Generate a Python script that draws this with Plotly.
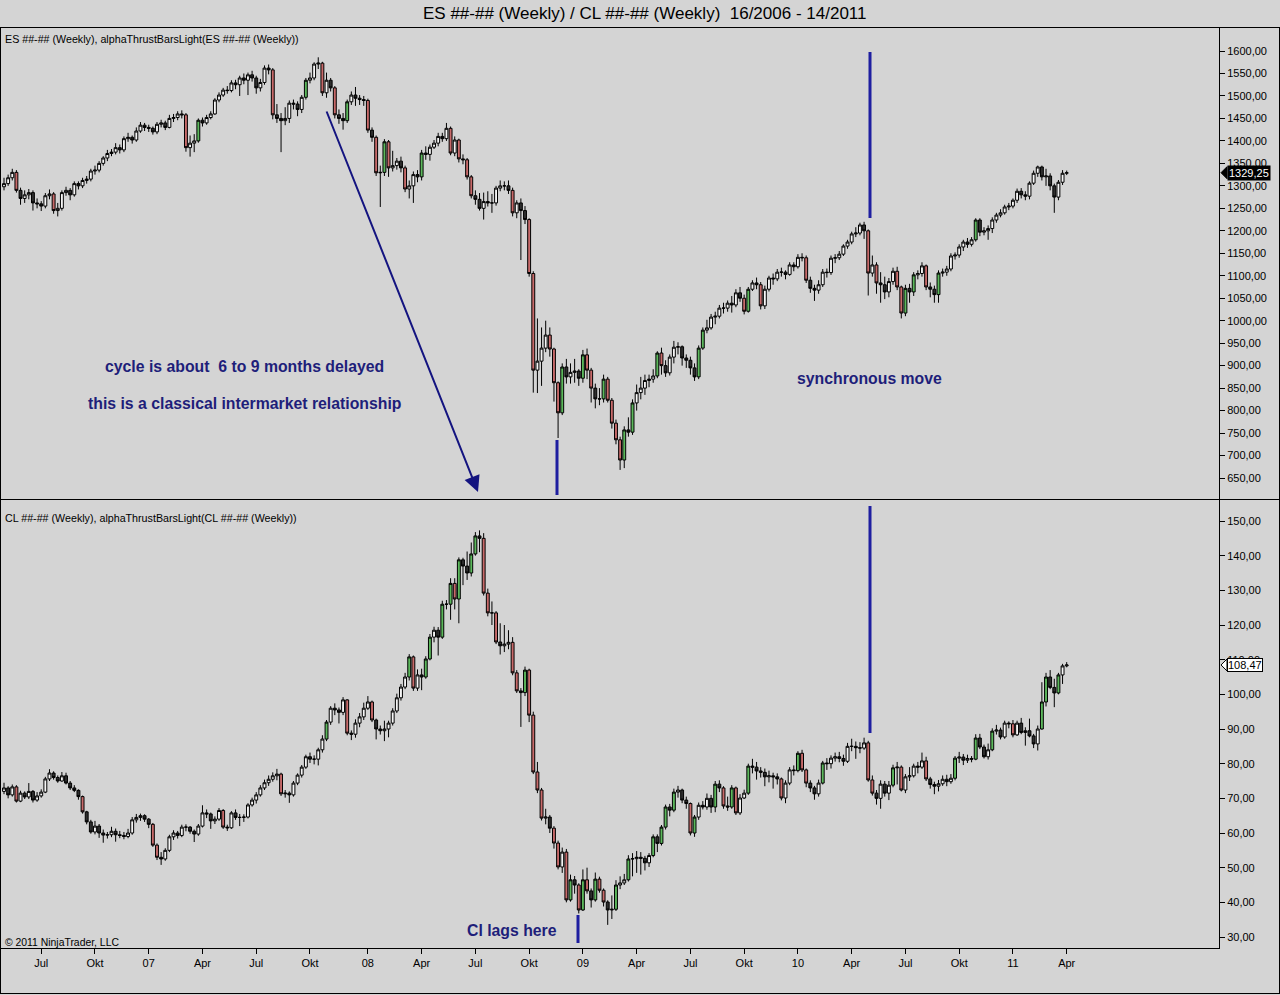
import plotly.graph_objects as go
import pandas as pd

# ---------------- data (weekly bars) ----------------
es_first_open = 1298
es_close = [1305, 1318, 1330, 1290, 1272, 1280, 1285, 1262, 1260, 1255,
            1278, 1282, 1245, 1250, 1285, 1290, 1280, 1305, 1300, 1312,
            1315, 1333, 1335, 1350, 1362, 1372, 1375, 1385, 1380, 1405,
            1408, 1402, 1422, 1435, 1430, 1428, 1420, 1437, 1440, 1430,
            1450, 1452, 1460, 1458, 1385, 1395, 1400, 1446, 1440, 1452,
            1460, 1491, 1502, 1513, 1512, 1529, 1525, 1540, 1535, 1547,
            1540, 1518, 1530, 1562, 1558, 1458, 1450, 1445, 1450, 1484,
            1482, 1470, 1497, 1535, 1540, 1571, 1573, 1507, 1535, 1518,
            1458, 1450, 1445, 1487, 1502, 1495, 1492, 1490, 1424, 1408,
            1329, 1330, 1398, 1340, 1345, 1355, 1340, 1293, 1300, 1325,
            1320, 1373, 1370, 1386, 1395, 1410, 1405, 1428, 1373, 1402,
            1360, 1358, 1320, 1278, 1270, 1250, 1265, 1262, 1262, 1295,
            1300, 1300, 1290, 1240, 1262, 1245, 1225, 1105, 890, 910,
            939, 968, 937, 862, 795, 897, 875, 885, 888, 872,
            924, 890, 850, 826, 826, 870, 823, 772, 735, 690,
            757, 752, 817, 840, 850, 867, 870, 877, 928, 900,
            884, 919, 941, 942, 917, 912, 895, 875, 939, 979,
            984, 1008, 1010, 1028, 1028, 1039, 1035, 1062, 1050, 1021,
            1070, 1084, 1080, 1033, 1070, 1095, 1093, 1108, 1108, 1103,
            1124, 1120, 1141, 1140, 1090, 1072, 1068, 1080, 1108, 1107,
            1139, 1140, 1148, 1166, 1175, 1193, 1195, 1213, 1200, 1106,
            1124, 1084, 1080, 1064, 1087, 1110, 1075, 1017, 1072, 1064,
            1102, 1105, 1122, 1075, 1070, 1058, 1106, 1108, 1115, 1144,
            1146, 1164, 1175, 1170, 1180, 1224, 1197, 1200, 1205, 1224,
            1235, 1240, 1253, 1255, 1268, 1288, 1280, 1277, 1306, 1328,
            1342, 1320, 1322, 1300, 1275, 1308, 1328, 1329.25]
es_high = [1318, 1325, 1338, 1335, 1296, 1290, 1293, 1290, 1272, 1266,
           1284, 1292, 1286, 1262, 1290, 1298, 1295, 1310, 1310, 1318,
           1322, 1338, 1345, 1355, 1366, 1380, 1382, 1395, 1392, 1410,
           1418, 1412, 1430, 1442, 1440, 1436, 1432, 1442, 1447, 1445,
           1458, 1460, 1466, 1468, 1462, 1412, 1415, 1450, 1452, 1458,
           1466, 1495, 1508, 1518, 1522, 1535, 1536, 1545, 1550, 1552,
           1556, 1545, 1538, 1568, 1570, 1562, 1482, 1462, 1475, 1490,
           1492, 1488, 1502, 1540, 1552, 1575, 1586, 1576, 1552, 1540,
           1522, 1470, 1462, 1492, 1510, 1520, 1502, 1500, 1494, 1430,
           1412, 1345, 1404, 1402, 1378, 1362, 1365, 1345, 1312, 1332,
           1335, 1380, 1388, 1392, 1402, 1418, 1418, 1440, 1432, 1410,
           1405, 1370, 1362, 1324, 1290, 1284, 1285, 1288, 1282, 1300,
           1312, 1310, 1312, 1296, 1268, 1272, 1255, 1228, 1110, 1005,
           985, 1000, 985, 940, 865, 905, 915, 905, 915, 892,
           935, 938, 895, 860, 850, 880, 875, 828, 780, 742,
           765, 785, 825, 858, 875, 880, 880, 892, 932, 940,
           912, 925, 955, 952, 945, 925, 920, 905, 945, 985,
           1002, 1015, 1020, 1035, 1040, 1045, 1055, 1070, 1075, 1058,
           1075, 1090, 1096, 1086, 1078, 1100, 1105, 1115, 1118, 1112,
           1130, 1130, 1148, 1150, 1145, 1098, 1080, 1090, 1115, 1116,
           1145, 1148, 1155, 1170, 1180, 1198, 1208, 1218, 1220, 1203,
           1145, 1130, 1108, 1098, 1095, 1118, 1120, 1078, 1080, 1082,
           1108, 1112, 1130, 1125, 1085, 1078, 1112, 1116, 1122, 1150,
           1152, 1170, 1180, 1184, 1186, 1228, 1228, 1208, 1212, 1230,
           1240, 1248, 1258, 1262, 1272, 1294, 1295, 1288, 1310, 1334,
           1345, 1345, 1338, 1328, 1305, 1313, 1335, 1334]
es_low = [1290, 1300, 1312, 1285, 1258, 1262, 1270, 1245, 1250, 1244,
          1250, 1270, 1238, 1232, 1245, 1278, 1268, 1276, 1292, 1295,
          1305, 1310, 1325, 1330, 1345, 1355, 1366, 1370, 1372, 1375,
          1398, 1394, 1398, 1418, 1422, 1420, 1414, 1415, 1430, 1424,
          1428, 1442, 1446, 1450, 1376, 1365, 1375, 1396, 1432, 1436,
          1448, 1458, 1486, 1498, 1505, 1508, 1515, 1500, 1526, 1502,
          1532, 1505, 1510, 1525, 1548, 1448, 1440, 1375, 1435, 1440,
          1470, 1455, 1462, 1492, 1528, 1535, 1560, 1500, 1496, 1510,
          1450, 1438, 1425, 1440, 1480, 1478, 1480, 1478, 1418, 1398,
          1322, 1253, 1322, 1320, 1332, 1336, 1330, 1286, 1272, 1262,
          1308, 1312, 1358, 1356, 1382, 1388, 1398, 1400, 1368, 1366,
          1352, 1348, 1314, 1272, 1258, 1245, 1225, 1254, 1240, 1256,
          1288, 1290, 1282, 1232, 1228, 1135, 1215, 1098, 840, 839,
          855, 930, 920, 820, 739, 790, 860, 860, 862, 855,
          862, 870, 818, 805, 812, 818, 818, 760, 725, 668,
          672, 742, 746, 800, 825, 835, 852, 862, 872, 880,
          875, 878, 905, 925, 900, 895, 880, 866, 870, 935,
          972, 980, 992, 1005, 1016, 1020, 1018, 1030, 1042, 1014,
          1018, 1066, 1070, 1025, 1026, 1065, 1080, 1088, 1098, 1092,
          1100, 1110, 1116, 1132, 1084, 1062, 1044, 1060, 1075, 1096,
          1102, 1128, 1135, 1144, 1160, 1170, 1186, 1190, 1182, 1056,
          1098, 1060, 1040, 1048, 1052, 1080, 1068, 1005, 1010, 1040,
          1055, 1092, 1098, 1068, 1052, 1040, 1040, 1098, 1100, 1110,
          1136, 1140, 1155, 1162, 1165, 1176, 1188, 1190, 1180, 1195,
          1218, 1230, 1236, 1246, 1250, 1262, 1272, 1268, 1270, 1302,
          1320, 1312, 1300, 1290, 1240, 1268, 1302, 1324]

cl_first_open = 72
cl_close = [73, 71, 73.3, 69.2, 71.5, 70.4, 72, 69.5, 70.7, 71.8,
            75.6, 77.3, 76, 75, 76.5, 74.4, 73, 72.3, 70.5, 66.1,
            63.2, 60.3, 62, 60, 59.4, 59.5, 60.5, 59.5, 59.3, 59,
            60, 63.8, 64.5, 65, 64, 62.5, 56.5, 53, 52.5, 55,
            58.9, 60, 59.3, 61.7, 61.7, 60.5, 59.7, 62, 65.8, 65.5,
            63.5, 64, 66.5, 61.7, 61.5, 65.8, 64.5, 64.5, 64.6, 68.1,
            69.5, 71, 73, 74.5, 75.5, 76.5, 77, 71.3, 71.5, 71,
            74.4, 76.7, 79, 82, 81.3, 81.3, 84, 87.1, 92, 96,
            95.5, 94.8, 98.4, 88.8, 88.5, 91.7, 93.5, 96, 97.8, 92.6,
            90, 89.5, 90, 91.7, 95.2, 99, 102.1, 105, 110.8, 101.8,
            105.6, 105, 110.2, 116.5, 118.5, 116.5, 126, 126, 132, 127.5,
            138.8, 137, 135, 140.5, 145.7, 145, 129.2, 123.5, 123.5, 115.1,
            114, 114.5, 115, 106.2, 101, 100.5, 107, 94, 77.6, 72.4,
            64.3, 64.6, 61.4, 57.1, 50.2, 54.5, 40.7, 46.5, 45, 37.8,
            46.5, 43.3, 40.7, 46.7, 43.5, 40.1, 37.8, 38, 45, 45.6,
            46.5, 52.5, 52.6, 53, 52.7, 51.4, 53.5, 58.9, 57, 61.7,
            67.5, 66.6, 71.8, 72.4, 69.5, 68.5, 60, 64.6, 68, 67.5,
            70, 67.5, 74.1, 73, 67.8, 67.5, 73, 65.8, 70.1, 71.5,
            79.3, 79, 77.9, 77.5, 76.2, 76.5, 76.2, 75.6, 70.1, 74.4,
            78.2, 78, 83, 78.2, 74.4, 73, 71.3, 74.4, 80.2, 80,
            81.6, 82, 81.5, 80.7, 85, 85, 84.6, 84.5, 86, 75.3,
            71.5, 70, 74.1, 71.5, 73.8, 78.8, 79, 72.4, 76.2, 76.5,
            79.3, 79, 80.8, 75.6, 74, 73.5, 74.2, 75.5, 74.8, 75.8,
            81.6, 81.9, 81, 81.5, 81.3, 87.4, 84.8, 82, 84, 89.4,
            89.7, 87.7, 91.7, 91.5, 88.3, 91.7, 89, 89.5, 88, 85.7,
            90, 97.8, 105, 102, 100.4, 105.6, 108.2, 108.47]
cl_high = [74.5, 73.5, 74, 73.8, 72.2, 72, 74.4, 72.4, 71.8, 72.6,
           76.2, 78.4, 77.8, 76.6, 77.6, 77.4, 75, 73.8, 72.6, 70.8,
           66.4, 63.8, 63.5, 62.6, 61, 60.3, 61.8, 61.3, 60.6, 60.3,
           61.2, 64.6, 65.5, 65.6, 65.4, 64.3, 62.9, 57, 54.5, 55.6,
           59.5, 60.8, 60.6, 62.4, 62.5, 62, 61, 62.6, 68, 66.8,
           65.9, 64.8, 67.2, 66.9, 62.4, 66.3, 66.8, 65.5, 65.4, 68.6,
           70.2, 71.8, 73.8, 75.4, 76.6, 77.5, 78.5, 77.4, 72.4, 72,
           75, 77.2, 79.6, 82.6, 83.2, 82.4, 84.6, 88.2, 92.6, 96.6,
           97.4, 96.2, 99.2, 98.6, 89.6, 92.8, 94.6, 97.6, 99.5, 98.2,
           93, 91, 92.4, 92.4, 96, 100.2, 103, 106.2, 111.6, 111.2,
           107.2, 107.4, 111, 117.4, 119.5, 119.4, 127, 127.2, 133.5, 133.5,
           139.5, 139.4, 141.2, 143.8, 146.8, 147.3, 146.5, 130.5, 126.8, 124,
           120.5, 120, 118.5, 116.5, 107, 101.8, 108, 107.4, 95, 80.5,
           73, 67, 65.2, 62, 57.8, 55.8, 55.4, 48, 47.6, 45.5,
           49.5, 50, 44, 48.6, 47.4, 44, 40.6, 42, 46.4, 47.5,
           48.2, 53.6, 54.2, 54.8, 54.5, 53.4, 54.2, 59.6, 59.6, 62.3,
           68.2, 68.4, 72.8, 73.6, 72.8, 70.5, 68.8, 65.2, 68.8, 69.2,
           71.4, 71, 75, 75.2, 73.5, 70.5, 73.8, 73.4, 71.2, 72.5,
           80, 81.4, 80.5, 79, 78.6, 78, 77.4, 77.2, 76, 75.2,
           79, 79.5, 83.6, 84, 78.6, 75.2, 73.6, 75.4, 80.8, 81.6,
           82.4, 83.2, 83.4, 82.6, 86, 87.2, 86.4, 86.2, 87.5, 86.6,
           76.6, 72.4, 75.2, 75, 75, 79.7, 80.5, 79.5, 77, 79,
           80, 80.5, 83.2, 82, 76.2, 74.8, 75.3, 76.6, 76.8, 77,
           82.2, 83.4, 82.8, 82.6, 82.2, 88.5, 88.6, 85.5, 85.8, 90.2,
           91.2, 90.4, 92.4, 92.2, 92.6, 92.4, 93.2, 90.5, 93, 88.6,
           91, 103.5, 106.2, 107, 104.5, 106.2, 108.8, 109.3]
cl_low = [71.2, 70, 70.5, 68.8, 68.9, 69.8, 69.8, 68.8, 69, 70.2,
          71.5, 75, 75.4, 74.5, 74.8, 74, 72.4, 71.8, 69.6, 65.6,
          62.5, 59.8, 59.6, 58.6, 57.2, 58.4, 58.8, 57.5, 58.5, 58.2,
          58.5, 59.5, 63, 63.5, 63.2, 61.4, 56, 52.2, 50.8, 52,
          54.5, 58, 58.4, 58.8, 60.5, 59.8, 57.4, 59.2, 61.6, 64.3,
          61.2, 62.6, 63.5, 61.2, 60.6, 61.2, 63.8, 62, 63.2, 64.2,
          67.6, 68.5, 70.5, 72.4, 73.6, 74.8, 75.2, 70.7, 70.2, 68.7,
          70.5, 73.8, 76, 78.5, 80.2, 79.8, 79.5, 83.2, 86.5, 91.2,
          94, 91.6, 94, 88.2, 86.8, 87.5, 90.5, 92.6, 95.5, 92,
          87, 88.4, 86.5, 87.6, 91, 94.6, 98.2, 101.5, 104, 101,
          101, 101.2, 104.5, 109.8, 115, 111.2, 116, 124.5, 121.5, 124.5,
          120.5, 131.5, 133, 134, 140, 141, 128.5, 122.5, 120, 114.5,
          111.5, 112.2, 113, 105.5, 100.4, 90.6, 99.5, 92, 77, 71.5,
          63.6, 62.5, 60, 55.5, 49.5, 48.5, 40, 40.2, 42.5, 36.8,
          37.5, 42.5, 38.5, 40.2, 42.8, 38.8, 33.5, 35.2, 37.5, 43.8,
          45, 46, 47.5, 48.5, 48, 49.2, 50.2, 53, 54.5, 56.4,
          61, 64.8, 66, 70.2, 68.6, 67, 59.3, 58.9, 63.8, 66.8,
          66.7, 65.8, 66, 71.8, 67, 66.4, 67, 65.2, 65.2, 69.8,
          71, 77.2, 75.4, 76, 73.5, 74.6, 72.8, 74, 69.4, 68.6,
          73.8, 76.6, 77.5, 77.6, 73.2, 71.8, 69.6, 70.5, 74, 78.2,
          78.6, 80.6, 80.4, 79.4, 80.2, 83.6, 81.4, 83, 84, 74.8,
          70.8, 68.2, 67, 70.5, 69.5, 73.2, 74, 72, 71.5, 75,
          76, 77.2, 78.5, 75, 72.8, 71.2, 72, 73.6, 73.5, 74.2,
          75.2, 80.2, 79.6, 80.2, 80.4, 81, 84.2, 81.5, 81.2, 83.6,
          88.4, 87, 87.2, 90.2, 87.6, 88, 88.5, 85.2, 87.6, 84.5,
          83.8, 89.8, 96.5, 101.5, 96.3, 100, 103, 107.8]

first_week = "2006-05-01"
month_names = {4: "Apr", 7: "Jul", 10: "Okt"}
es_ticks = list(range(650, 1601, 50))
cl_ticks = list(range(30, 151, 10))

title_text = "ES ##-## (Weekly) / CL ##-## (Weekly)  16/2006 - 14/2011"
es_label = "ES ##-## (Weekly), alphaThrustBarsLight(ES ##-## (Weekly))"
cl_label = "CL ##-## (Weekly), alphaThrustBarsLight(CL ##-## (Weekly))"
copyright_text = "© 2011 NinjaTrader, LLC"
note1 = "cycle is about  6 to 9 months delayed"
note2 = "this is a classical intermarket relationship"
note3 = "synchronous move"
note4 = "Cl lags here"

# ---------------- geometry (pixels of the 1280x995 page) ----------------
W, H = 1280, 995
ML, MR, MT, MB = 1, 61, 28, 47
PW = W - ML - MR
PH = H - MT - MB
BG = "#d4d4d4"
NAVY = "#1e1e7a"
LINEBLUE = "#1e1ea0"
FONT = "Liberation Sans, Arial, sans-serif"


def px(x):
    return (x - ML) / PW


def py(y):
    return (H - MB - y) / PH


es_range = [603.3, 1651.2]
cl_range = [26.83, 156.06]
top_dom = [py(499), 1.0]
bot_dom = [0.0, py(500)]


def val_to_py(v, rng, dom):
    frac = (v - rng[0]) / (rng[1] - rng[0])
    p = dom[0] + frac * (dom[1] - dom[0])
    return H - MB - p * PH


n = len(es_close)
dates = pd.date_range(first_week, periods=n, freq="W-MON")
bar_px = 4.135
week = pd.Timedelta(days=7)
x0 = dates[0] - week * (3 / bar_px)
x1 = x0 + week * (PW / bar_px)

tickvals, ticktext = [], []
for i in range(1, n):
    d = dates[i]
    if d.month != dates[i - 1].month and d.month in (1, 4, 7, 10):
        tickvals.append(d)
        ticktext.append(f"{d.year % 100:02d}" if d.month == 1 else month_names[d.month])

COLORS = {"green": "#5cb85c", "red": "#c86a6a", "white": "#f6f6f6", "dark": "#2e2e2e"}


def classify(o, c, up_th, dn_th):
    if c - o >= up_th:
        return "green"
    if o - c >= dn_th:
        return "red"
    return "white" if c >= o else "dark"


fig = go.Figure()


def add_panel(first_open, close, high, low, yaxis, up_th, dn_th):
    opens = [first_open] + close[:-1]
    groups = {k: [] for k in COLORS}
    for i in range(len(close)):
        groups[classify(opens[i], close[i], up_th, dn_th)].append(i)
    for k, idx in groups.items():
        if not idx:
            continue
        style = dict(line=dict(color="black", width=1), fillcolor=COLORS[k])
        fig.add_trace(go.Candlestick(
            x=[dates[i] for i in idx],
            open=[opens[i] for i in idx],
            high=[high[i] for i in idx],
            low=[low[i] for i in idx],
            close=[close[i] for i in idx],
            increasing=style, decreasing=style,
            whiskerwidth=0, xaxis="x", yaxis=yaxis,
            showlegend=False, hoverinfo="skip"))


add_panel(es_first_open, es_close, es_high, es_low, "y", 38, 28)
add_panel(cl_first_open, cl_close, cl_high, cl_low, "y2", 4.5, 3.2)

axis_common = dict(showgrid=False, zeroline=False, showline=True, linecolor="black",
                   linewidth=1, ticks="outside", ticklen=5, tickcolor="black",
                   tickfont=dict(family=FONT, size=11, color="black"))

fig.update_layout(
    width=W, height=H,
    margin=dict(l=ML, r=MR, t=MT, b=MB, pad=0),
    paper_bgcolor=BG, plot_bgcolor=BG,
    separators=",.",
    boxgap=0.0, boxgroupgap=0.3,
    font=dict(family=FONT, color="black"),
    xaxis=dict(domain=[0, 1], anchor="y2", type="date", range=[x0, x1],
               tickmode="array", tickvals=tickvals, ticktext=ticktext,
               rangeslider=dict(visible=False), **axis_common),
    yaxis=dict(domain=top_dom, anchor="x", side="right", range=es_range,
               tickmode="array", tickvals=es_ticks, tickformat=".2f", **axis_common),
    yaxis2=dict(domain=bot_dom, anchor="x", side="right", range=cl_range,
                tickmode="array", tickvals=cl_ticks, tickformat=".2f", **axis_common),
)

shapes = []
# frame lines
for y in (27.5, 499.5):
    shapes.append(dict(type="line", xref="paper", yref="paper", x0=px(0), x1=px(W),
                       y0=py(y), y1=py(y), line=dict(color="black", width=1)))
shapes.append(dict(type="line", xref="paper", yref="paper", x0=px(0), x1=px(W),
                   y0=py(993.5), y1=py(993.5), line=dict(color="black", width=1)))
shapes.append(dict(type="line", xref="paper", yref="paper", x0=px(0.5), x1=px(0.5),
                   y0=py(27.5), y1=py(993.5), line=dict(color="black", width=1)))
shapes.append(dict(type="line", xref="paper", yref="paper", x0=px(1279.5), x1=px(1279.5),
                   y0=py(27.5), y1=py(993.5), line=dict(color="black", width=1)))
# blue marker lines
for (x, ya, yb) in [(557, 440, 495), (870, 52, 218), (870, 506, 733), (578, 915, 943)]:
    shapes.append(dict(type="line", xref="paper", yref="paper", x0=px(x), x1=px(x),
                       y0=py(ya), y1=py(yb), line=dict(color=LINEBLUE, width=3)))

# last-price markers
es_last = es_close[-1]
cl_last = cl_close[-1]
es_ly = val_to_py(es_last, es_range, top_dom)
cl_ly = val_to_py(cl_last, cl_range, bot_dom)
for (ly, fill) in [(es_ly, "black"), (cl_ly, "white")]:
    shapes.append(dict(type="path", xref="paper", yref="paper",
                       path=f"M {px(1221)} {py(ly)} L {px(1227)} {py(ly - 6)} L {px(1227)} {py(ly + 6)} Z",
                       fillcolor=fill, line=dict(color="black", width=1)))
fig.update_layout(shapes=shapes)


def fmt(v):
    return f"{v:.2f}".replace(".", ",")


anns = [
    dict(text=title_text, x=px(645), y=py(13), font=dict(size=17)),
    dict(text=es_label, x=px(3), y=py(39), xanchor="left", font=dict(size=10.7)),
    dict(text=cl_label, x=px(3), y=py(518), xanchor="left", font=dict(size=10.7)),
    dict(text=copyright_text, x=px(3), y=py(942), xanchor="left", font=dict(size=10.4)),
    dict(text=f"<b>{note1}</b>", x=px(244), y=py(366), font=dict(size=15.8, color=NAVY)),
    dict(text=f"<b>{note2}</b>", x=px(244), y=py(403), font=dict(size=15.8, color=NAVY)),
    dict(text=f"<b>{note3}</b>", x=px(869), y=py(378), font=dict(size=15.8, color=NAVY)),
    dict(text=f"<b>{note4}</b>", x=px(512), y=py(930), font=dict(size=15.8, color=NAVY)),
    dict(text=fmt(es_last), x=px(1227), y=py(es_ly), xanchor="left", bgcolor="black",
         font=dict(size=11, color="white"), borderpad=1),
    dict(text=fmt(cl_last), x=px(1227), y=py(cl_ly), xanchor="left", bgcolor="white",
         bordercolor="black", borderwidth=1, font=dict(size=11, color="black"), borderpad=0),
]
for a in anns:
    a.setdefault("xanchor", "center")
    a.update(xref="paper", yref="paper", yanchor="middle", showarrow=False)
# diagonal arrow
anns.append(dict(text="", xref="paper", yref="paper", x=px(478), y=py(492),
                 ax=326 - 478, ay=110 - 492, axref="pixel", ayref="pixel",
                 showarrow=True, arrowhead=2, arrowsize=1.6, arrowwidth=2,
                 arrowcolor="#141480"))
fig.update_layout(annotations=anns)

fig.write_html("out.html",
               config={"displayModeBar": False},
               post_script="document.body.style.margin='0px';"
                           "document.body.style.overflow='hidden';")
